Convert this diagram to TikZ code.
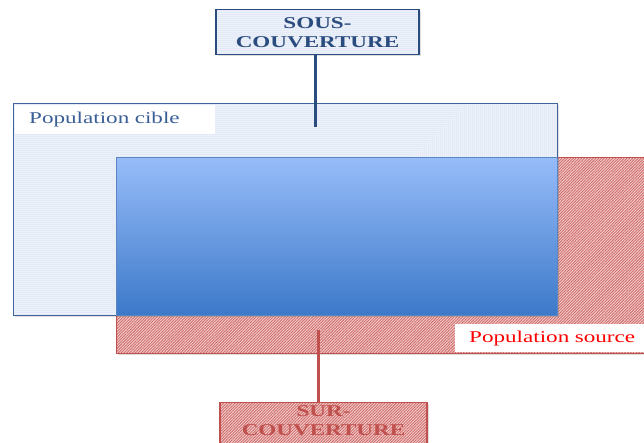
\documentclass[tikz,border=0pt]{standalone}
\usepackage{fontspec}
\setmainfont{Liberation Serif}[FakeStretch=1.4]
\usetikzlibrary{patterns.meta,shadows}

\definecolor{navy}{HTML}{2A4C7E}
\definecolor{cibleline}{HTML}{3F659C}
\definecolor{cibletext}{HTML}{3A5E96}
\definecolor{dotblue}{HTML}{AFC4E6}
\definecolor{paleblue}{HTML}{F2F5FB}
\definecolor{redline}{HTML}{C0504D}
\definecolor{hatchred}{HTML}{D06E6C}
\definecolor{palered}{HTML}{F2CECE}
\definecolor{gradtop}{HTML}{97BCF9}
\definecolor{gradbot}{HTML}{3C79C9}
\definecolor{gradline}{HTML}{5A86C4}

\tikzset{
  soft shadow/.style={drop shadow={shadow xshift=1.5pt, shadow yshift=-1.5pt, opacity=0.25}},
  dotted fill/.style={preaction={fill=paleblue},
    pattern={Dots[radius=0.5pt, distance=2pt]}, pattern color=dotblue},
  hatch fill/.style={preaction={fill=palered},
    pattern={Lines[angle=45, distance=2pt, line width=0.9pt]}, pattern color=hatchred},
  area/.style={rectangle, anchor=north west, inner sep=0pt},
  tag/.style={rectangle, anchor=north west, fill=white, inner ysep=0pt, inner xsep=14pt,
    align=left, font=\fontsize{16.5}{19}\selectfont},
  headbox/.style={rectangle, soft shadow, align=center, inner xsep=4pt, inner ysep=5pt,
    font=\bfseries\fontsize{16.5}{19}\selectfont, line width=1.4pt},
  headtext/.style={align=center, inner xsep=4pt, inner ysep=3pt,
    font=\bfseries\fontsize{16.5}{19}\selectfont},
  stem/.style={line width=3pt}
}

\begin{document}
\begin{tikzpicture}[x=1pt, y=-1pt]
  \useasboundingbox (0,0) rectangle (644,443);

  % source population (hatched red)
  \node[area, soft shadow, hatch fill, draw=redline, line width=1pt,
        minimum width=540pt, minimum height=196pt] (source) at (116,157) {};

  % target population (dotted blue)
  \node[area, soft shadow, dotted fill, draw=cibleline, line width=1.2pt,
        minimum width=544pt, minimum height=212pt] (cible) at (13,103) {};

  % overlap of the two populations
  \node[area, soft shadow, top color=gradtop, bottom color=gradbot, draw=gradline,
        line width=0.6pt, minimum width=441pt, minimum height=158pt] (overlap) at (116,157) {};

  % labels of the two populations
  \node[tag, text=cibletext, text width=172pt, minimum height=29pt] (ciblelabel) at (15,105) {Population cible};
  \node[tag, text=red, text width=175pt, minimum height=28pt] (sourcelabel) at (455,324) {Population source};

  % under-coverage
  \node[headbox, dotted fill, draw=navy, text=navy, minimum width=203pt, minimum height=45pt,
        anchor=north] (sous) at (317.5,9) {SOUS-\\COUVERTURE};
  \coordinate (sousend) at (315,127);
  \draw[stem, navy] (sous.south -| sousend) -- (sousend);

  % over-coverage
  \node[headbox, hatch fill, draw=redline, minimum width=207pt, minimum height=56pt,
        anchor=north] (sur) at (323.5,402) {};
  \node[headtext, text=redline, anchor=north] (surtext) at (sur.north) {SUR-\\COUVERTURE};
  \coordinate (surstart) at (318,330);
  \draw[stem, redline] (surstart) -- (surstart |- sur.north);
\end{tikzpicture}
\end{document}
